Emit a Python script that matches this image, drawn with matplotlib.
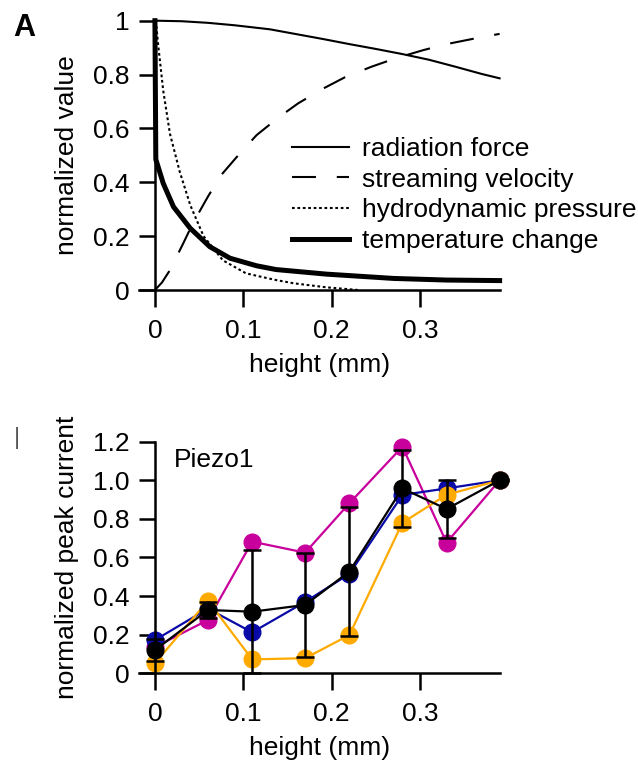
import matplotlib
matplotlib.use("Agg")
import matplotlib.pyplot as plt
from matplotlib.ticker import FixedLocator

plt.rcParams['font.family'] = ['Liberation Sans', 'DejaVu Sans']

# --- panel A: normalized physical quantities vs height (mm)
rad_x = [0, 0.03, 0.06, 0.09, 0.13, 0.16, 0.19, 0.22, 0.25, 0.28, 0.31, 0.34, 0.37, 0.39]
rad_y = [1.0, 0.998, 0.992, 0.983, 0.968, 0.95, 0.932, 0.913, 0.895, 0.876, 0.855, 0.829, 0.802, 0.786]

str_x = [0, 0.008, 0.017, 0.032, 0.043, 0.06, 0.075, 0.096, 0.115, 0.14, 0.162, 0.191,
         0.215, 0.245, 0.272, 0.304, 0.33, 0.362, 0.39]
str_y = [0, 0.028, 0.074, 0.173, 0.248, 0.347, 0.427, 0.507, 0.575, 0.641, 0.693, 0.749,
         0.79, 0.829, 0.86, 0.891, 0.913, 0.934, 0.951]

hyd_x = [0.001, 0.004, 0.0094, 0.017, 0.028, 0.04, 0.055, 0.077, 0.103, 0.119, 0.137, 0.157, 0.194, 0.23]
hyd_y = [1.0, 0.9, 0.74, 0.58, 0.44, 0.315, 0.2, 0.11, 0.062, 0.05, 0.037, 0.025, 0.01, 0.0]

tmp_x = [0, 0.001, 0.0094, 0.021, 0.04, 0.062, 0.085, 0.115, 0.137, 0.194, 0.27, 0.33, 0.39]
tmp_y = [1.0, 0.485, 0.396, 0.309, 0.229, 0.161, 0.118, 0.09, 0.076, 0.059, 0.043, 0.037, 0.035]

legend_labels = ["radiation force", "streaming velocity", "hydrodynamic pressure", "temperature change"]

# --- panel B: Piezo1 normalized peak current
heights = [0, 0.06, 0.11, 0.17, 0.22, 0.28, 0.33, 0.39]
cell_magenta = [0.136, 0.276, 0.682, 0.625, 0.881, 1.174, 0.677, 1.0]
cell_blue = [0.172, 0.335, 0.212, 0.37, 0.515, 0.924, 0.958, 1.0]
cell_orange = [0.052, 0.376, 0.072, 0.078, 0.198, 0.78, 0.925, 1.0]
mean_cur = [0.12, 0.328, 0.319, 0.354, 0.527, 0.958, 0.851, 1.0]
sd_cur = [0.056, 0.043, 0.32, 0.27, 0.335, 0.20, 0.15, 0.0]

x_ticks = [0, 0.1, 0.2, 0.3]
x_ticklabels = ["0", "0.1", "0.2", "0.3"]
ya_ticks = [0, 0.2, 0.4, 0.6, 0.8, 1.0]
ya_ticklabels = ["0", "0.2", "0.4", "0.6", "0.8", "1"]
yb_ticks = [0, 0.2, 0.4, 0.6, 0.8, 1.0, 1.2]
yb_ticklabels = ["0", "0.2", "0.4", "0.6", "0.8", "1.0", "1.2"]

FS = 19


def style_axes(ax, yticks, yticklabels, ylim):
    ax.set_xlim(-0.018, 0.39)
    ax.set_ylim(*ylim)
    for s in ("top", "right"):
        ax.spines[s].set_visible(False)
    ax.spines["left"].set_position(("data", 0))
    for s in ("left", "bottom"):
        ax.spines[s].set_linewidth(1.8)
    ax.xaxis.set_major_locator(FixedLocator(x_ticks))
    ax.set_xticklabels(x_ticklabels)
    ax.yaxis.set_major_locator(FixedLocator(yticks))
    ax.set_yticklabels(yticklabels)
    ax.tick_params(axis="x", direction="out", length=12, width=1.8, pad=9, labelsize=FS)
    ax.tick_params(axis="y", direction="out", length=11.5, width=1.8, pad=7, labelsize=FS)
    ax.set_xlabel("height (mm)", fontsize=FS, labelpad=7)


fig = plt.figure(figsize=(6.38, 7.63), dpi=100)

ax1 = fig.add_axes([0.2179, 0.6199, 0.5652, 0.353])
ax1.plot(rad_x, rad_y, color="black", lw=1.5, clip_on=False, label=legend_labels[0])
ax1.plot(str_x, str_y, color="black", lw=1.5, dashes=(11.5, 10), clip_on=False, label=legend_labels[1])
ax1.plot(hyd_x, hyd_y, color="black", lw=1.5, dashes=(1.3, 1.3), clip_on=False, label=legend_labels[2])
ax1.plot(tmp_x, tmp_y, color="black", lw=3.6, clip_on=False, label=legend_labels[3])
style_axes(ax1, ya_ticks, ya_ticklabels, (0, 1))
ax1.set_ylabel("normalized value", fontsize=FS, labelpad=10)
ax1.legend(loc="upper left", bbox_to_anchor=(0.424, 0.569), frameon=False, fontsize=FS,
           handlelength=2.18, handletextpad=0.47, labelspacing=0.26, borderpad=0, borderaxespad=0)

fig.text(0.02, 0.983, "A", fontsize=22, fontweight="bold", va="top", ha="left")

ax2 = fig.add_axes([0.2179, 0.1176, 0.5652, 0.3035])
ms = 12
ax2.plot(heights, cell_magenta, color="#C8009C", lw=1.6, marker="o", ms=ms, clip_on=False)
ax2.plot(heights, cell_blue, color="#0A0AA8", lw=1.6, marker="o", ms=ms, clip_on=False)
ax2.plot(heights, cell_orange, color="#FFAA00", lw=1.6, marker="o", ms=ms, clip_on=False)
ax2.errorbar(heights, mean_cur, yerr=sd_cur, color="black", lw=1.6, marker="o", ms=ms,
             elinewidth=1.8, capsize=6.5, capthick=1.8, clip_on=False)
style_axes(ax2, yb_ticks, yb_ticklabels, (0, 1.2))
ax2.set_ylabel("normalized peak current", fontsize=FS, labelpad=10)
ax2.text(0.0215, 1.165, "Piezo1", fontsize=FS, va="top", ha="left")

fig.text(0.027, 0.426, "|", fontsize=17, color="#555555", va="center", ha="center")

fig.savefig("out.png", dpi=100)
